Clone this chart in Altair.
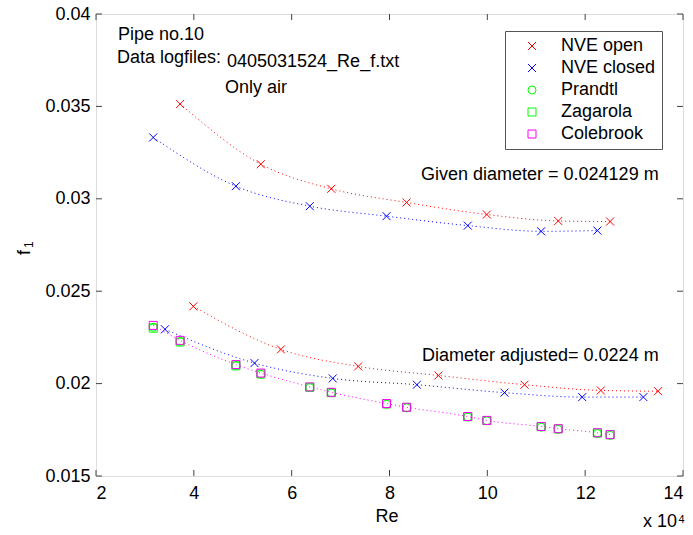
import altair as alt
import pandas as pd

# ---------------- data ----------------
series_names = ["NVE open", "NVE closed", "Prandtl", "Zagarola", "Colebrook"]

# measured, given diameter (Re in units of 1e4)
re_open = [3.72, 5.37, 6.81, 8.35, 9.99, 11.45, 12.51]
f_open_given = [0.03513, 0.03187, 0.03054, 0.02980, 0.02915, 0.02880, 0.02877]
re_closed = [3.17, 4.86, 6.37, 7.94, 9.60, 11.10, 12.25]
f_closed_given = [0.03332, 0.03068, 0.02960, 0.02906, 0.02855, 0.02824, 0.02828]

# measured, adjusted diameter
re_open_adj = [3.99, 5.78, 7.36, 9.00, 10.76, 12.32, 13.49]
f_open_adj = [0.02418, 0.02185, 0.02093, 0.02044, 0.01994, 0.01963, 0.01959]
re_closed_adj = [3.41, 5.24, 6.84, 8.56, 10.35, 11.94, 13.19]
f_closed_adj = [0.02294, 0.02111, 0.02028, 0.01994, 0.01951, 0.01927, 0.01927]

# model curves
re_model = [3.17, 3.72, 4.86, 5.37, 6.37, 6.81, 7.94, 8.35, 9.60, 9.99, 11.10, 11.45, 12.25, 12.51]
f_prandtl = [0.02305, 0.02228, 0.02098, 0.02050, 0.01978, 0.01950, 0.01888, 0.01869, 0.01819, 0.01799, 0.01764, 0.01752, 0.01730, 0.01720]
f_zagarola = [0.02300, 0.02225, 0.02096, 0.02052, 0.01980, 0.01951, 0.01890, 0.01871, 0.01821, 0.01800, 0.01767, 0.01755, 0.01733, 0.01723]
f_colebrook = [0.02315, 0.02234, 0.02103, 0.02057, 0.01982, 0.01953, 0.01892, 0.01872, 0.01822, 0.01801, 0.01768, 0.01756, 0.01734, 0.01724]

x_ticks = [2, 4, 6, 8, 10, 12, 14]
y_ticks = [0.015, 0.02, 0.025, 0.03, 0.035, 0.04]

# ---------------- tables ----------------
pts = []
for name, res, fs in [
    ("NVE open", re_open, f_open_given),
    ("NVE closed", re_closed, f_closed_given),
    ("NVE open", re_open_adj, f_open_adj),
    ("NVE closed", re_closed_adj, f_closed_adj),
    ("Prandtl", re_model, f_prandtl),
    ("Zagarola", re_model, f_zagarola),
    ("Colebrook", re_model, f_colebrook),
]:
    for r, f in zip(res, fs):
        pts.append({"series": name, "z": series_names.index(name), "Re": r, "f": f})
pts = pd.DataFrame(pts)

lines = []
for lid, col, res, fs in [
    ("open_given", "#ff0000", re_open, f_open_given),
    ("closed_given", "#0000ff", re_closed, f_closed_given),
    ("open_adj", "#ff0000", re_open_adj, f_open_adj),
    ("closed_adj", "#0000ff", re_closed_adj, f_closed_adj),
    ("model", "#ff00ff", re_model, f_colebrook),
]:
    for r, f in zip(res, fs):
        lines.append({"line": lid, "lcolor": col, "Re": r, "f": f})
lines = pd.DataFrame(lines)

FONT = "Liberation Sans"
W, H = 587, 462

xenc = alt.X("Re:Q",
             scale=alt.Scale(domain=[2, 14], nice=False, zero=False),
             axis=alt.Axis(values=x_ticks, format="~g", title=None, domain=False,
                           ticks=False, grid=False, labelFontSize=18, labelFont=FONT,
                           labelColor="black", labelPadding=8))
yenc = alt.Y("f:Q",
             scale=alt.Scale(domain=[0.015, 0.04], nice=False, zero=False),
             axis=alt.Axis(values=y_ticks, format="~g", title=None, domain=False,
                           ticks=False, grid=False, labelFontSize=18, labelFont=FONT,
                           labelColor="black", labelPadding=6))

line_layer = alt.Chart(lines).mark_line(strokeWidth=1, strokeDash=[1, 3],
                                        interpolate="monotone").encode(
    x=xenc, y=yenc,
    detail="line:N",
    color=alt.Color("lcolor:N", scale=None),
)

shape_x = "M-1,-1L1,1M-1,1L1,-1"
point_layer = alt.Chart(pts).mark_point(filled=False, strokeWidth=1, opacity=1).encode(
    x=xenc, y=yenc,
    color=alt.Color("series:N",
                    scale=alt.Scale(domain=series_names,
                                    range=["#ff0000", "#0000ff", "#00ff00", "#00ff00", "#ff00ff"]),
                    legend=alt.Legend(title=None, orient="none", legendX=409, legendY=17,
                                      strokeColor="#555555", fillColor="white", padding=6,
                                      labelFontSize=18, labelFont=FONT, labelColor="black",
                                      symbolSize=75, symbolStrokeWidth=1, symbolOffset=12,
                                      labelOffset=20, rowPadding=4, labelLimit=300,
                                      labelExpr="datum.label + '  '")),
    shape=alt.Shape("series:N",
                    scale=alt.Scale(domain=series_names,
                                    range=[shape_x, shape_x, "circle", "square", "square"])),
    size=alt.Size("series:N",
                  scale=alt.Scale(domain=series_names, range=[64, 64, 100, 81, 81]),
                  legend=None),
    order=alt.Order("z:Q"),
)

xt = pd.DataFrame({"Re": x_ticks})
yt = pd.DataFrame({"f": y_ticks})
tick_col = "#444444"
tick_b = alt.Chart(xt).mark_rule(color=tick_col, strokeWidth=1).encode(
    x=xenc, y=alt.value(H), y2=alt.value(H - 6))
tick_t = alt.Chart(xt).mark_rule(color=tick_col, strokeWidth=1).encode(
    x=xenc, y=alt.value(0), y2=alt.value(6))
tick_l = alt.Chart(yt).mark_rule(color=tick_col, strokeWidth=1).encode(
    y=yenc, x=alt.value(0), x2=alt.value(6))
tick_r = alt.Chart(yt).mark_rule(color=tick_col, strokeWidth=1).encode(
    y=yenc, x=alt.value(W), x2=alt.value(W - 6))

one = pd.DataFrame({"k": [0]})


def label(text, x, y, size=18, align="left", angle=0):
    kw = dict(text=text, fontSize=size, font=FONT, color="black", align=align,
              baseline="alphabetic")
    if angle:
        kw["angle"] = angle
    return alt.Chart(one).mark_text(**kw).encode(x=alt.value(x), y=alt.value(y))


texts = [
    label("Pipe no.10", 22, 26),
    label("Data logfiles:", 21, 49),
    label("0405031524_Re_f.txt", 131, 53),
    label("Only air", 129, 78.5),
    label("Given diameter = 0.024129 m", 325, 166),
    label("Diameter adjusted= 0.0224 m", 326, 346.7),
    label("Re", 291, 507.7, align="center"),
    label("x 10", 547, 513.3),
    label("4", 582.5, 509.3, size=11),
    label("f", -66, 241, angle=270),
    label("1", -63, 234, size=12, angle=270),
]

chart = alt.layer(
    line_layer, point_layer, tick_b, tick_t, tick_l, tick_r, *texts
).properties(
    width=W, height=H,
    autosize=alt.AutoSizeParams(type="none"),
    padding={"left": 96, "top": 14, "right": 10, "bottom": 59},
    background="white",
).configure_view(
    stroke="#444444", strokeWidth=1
).configure(font=FONT)

chart.save("out.html", embed_options={"renderer": "svg", "actions": False})
